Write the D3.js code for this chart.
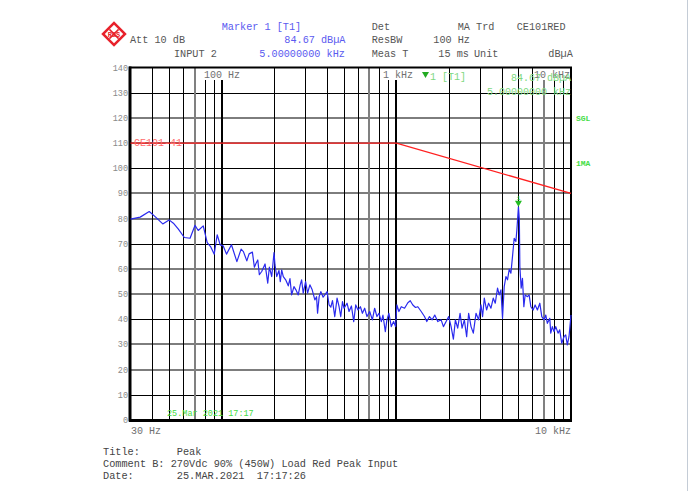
<!DOCTYPE html>
<html><head><meta charset="utf-8">
<script src="https://cdn.jsdelivr.net/npm/d3@7"></script>
<style>
body{margin:0;background:#fff}
svg{display:block}
text{font-family:"Liberation Mono","DejaVu Sans Mono",monospace}
</style>
</head><body>
<svg id="c" width="696" height="491"></svg>
<script>
// ---------- data ----------
const freqs = [30,34.1,38.4,41.5,45.9,49.9,52.8,56.4,61.0,65.8,70.2,73.3,78.3,82.5,86.2,90.5,94.1,97.9,101.8,106.4,
113.6,122,129,133,139.1,143.3,149.7,153.7,157.1,160.7,164.1,169.3,176.9,183.3,187.2,193.2,199.1,201.7,206.3,212.6,
216.3,220.3,225,232.2,240.3,245.7,251.2,259,265.8,274,281.2,286.5,292.6,302,310,319.5,329.4,341.2,348.9,353.6,
361.1,369.2,380.5,389.1,401.1,411.7,421,430.5,443.7,457.3,469.6,480.2,491.1,501.5,521.6,535.5,552.7,569.6,584.9,602.8,
622.1,638.7,658.2,678.5,703.1,728.4,750.7,773.9,794.5,819.9,837.3,864.1,882.5,906,935.1,963.8,989.5,1006.5,1033.3,1066.4,
1113.8,1163,1200.3,1241.9,1286.7,1326.4,1387,1448.4,1493.1,1546.7,1602.9,1658.5,1725,1803.8,1859.5,1926.6,1993.4,2057.3,2120.3,2177.2,
2243.9,2315.8,2377.4,2450.2,2525.8,2592.9,2676,2758,2857.6,2956.7,3051.5,3116.8,3187.2,3284.8,3372.2,3480.3,3586.9,3683.1,3795.9,3881.6,
3969.3,4053.3,4144.9,4238.5,4329.2,4427,4527,4622.9,4727.3,4834.1,4897.8,5000,5060,5094,5183,5272,5370,5463,5630,5757,
5889,6069,6230,6421,6627,6803,7013,7171,7323,7557,7657,7819,7996,8176,8429,8619,8848,9120,9326,9526,9739,10000];
const levels = [79.8,80.6,82.8,80.8,77.9,79.5,78.2,75.8,72.5,72.2,77.3,75.3,77.1,70.5,68.9,65.9,73.6,69.6,69.2,65.9,
69.6,62.9,67.9,66.9,63.2,66.0,66.7,60.7,62.3,63.6,57.7,59.0,62.0,54.4,60.7,57.0,66.5,61.6,57.0,59.4,
55.0,59.6,57.0,55.7,53.3,56.2,49.7,53.0,51.7,49.7,53.7,55.7,50.4,55.0,50.4,53.7,51.7,47.7,49.0,42.4,
49.0,51.0,48.8,49.7,51.0,45.7,44.8,47.4,41.1,48.4,45.0,41.1,47.0,44.4,46.4,43.1,45.3,39.1,45.7,43.7,
45.0,42.4,44.4,41.1,43.1,39.8,44.4,41.1,42.4,39.1,41.7,35.1,39.8,42.4,37.1,39.1,37.1,45.7,43.1,45.0,
44.4,46.6,47.4,45.7,44.7,45.0,43.1,41.1,39.1,41.1,39.8,41.7,39.1,39.8,37.1,39.1,41.1,37.1,32.1,39.8,
36.5,42.4,36.5,39.8,33.1,42.4,37.1,34.5,42.4,39.8,45.7,41.1,48.4,43.7,46.4,44.4,48.4,46.4,52.4,49.7,
51.7,40.4,53.0,57.0,55.7,59.9,58.3,64.9,72.2,70.9,75.5,84.67,79.5,61.0,52.4,56.3,45.0,49.7,49.0,49.7,
45.0,43.7,45.7,43.7,46.4,41.1,39.8,41.7,38.4,40.4,34.5,37.1,35.1,37.1,34.5,35.8,30.5,33.1,33.8,29.8,33.1,41.7];

const limitFreqs = [30, 1000, 10000];
const limitLevels = [110, 110, 90];
const gridFreqs = [40,50,60,70,80,90,100,200,300,400,500,600,700,800,900,1000,2000,3000,4000,5000,6000,7000,8000,9000];
const levelTicks = [0,10,20,30,40,50,60,70,80,90,100,110,120,130,140];
const freqLabels = [{f:100,t:"100 Hz"},{f:1000,t:"1 kHz"},{f:10000,t:"10 kHz"}];
const markerFreq = 5000, markerLevel = 84.67;

// ---------- scales ----------
const svg = d3.select("#c");
const x = d3.scaleLog().domain([30, 10000]).range([130.5, 571]);
const y = d3.scaleLinear().domain([0, 140]).range([420, 67.6]);
const px = v => Math.round(v) + 0.5;

// outer faint frame on right
svg.append("line").attr("x1",687.5).attr("x2",687.5).attr("y1",0).attr("y2",491)
  .attr("stroke","#c4ccd6").attr("stroke-width",1);

// ---------- grid ----------
const g = svg.append("g");
levelTicks.forEach(v => {
  if (v === 0 || v === 140) return;
  const black = ((v - 10) % 30 === 0);
  const yy = black ? px(y(v)) : Math.round(y(v));
  g.append("line").attr("x1",130).attr("x2",571).attr("y1", yy).attr("y2", yy)
    .attr("stroke", black ? "#000" : "#7d7d7d")
    .attr("stroke-width", black ? 1 : 2);
});
gridFreqs.forEach(f => {
  const lead = f / Math.pow(10, Math.floor(Math.log10(f) + 1e-9));
  const major = Math.abs(lead - 1) < 1e-6;
  const grey = Math.abs(lead - 7) < 1e-6;
  const xv = (major || grey) ? Math.round(x(f)) : px(x(f));
  g.append("line").attr("x1", xv).attr("x2", xv).attr("y1",67).attr("y2",420)
    .attr("stroke", grey ? "#808080" : "#000")
    .attr("stroke-width", (major || grey) ? 2 : 1);
});

// label backgrounds on top of grid (gaps)
const lblBoxes = [[200,240],[382,415],[533,571]];
freqLabels.forEach((d,i) => {
  const b = lblBoxes[i];
  svg.append("rect").attr("x", b[0]).attr("y", 68).attr("width", b[1]-b[0]).attr("height", 12).attr("fill","#fff");
});

// frame
svg.append("rect").attr("x",130).attr("y",67.5).attr("width",441).attr("height",352.5)
  .attr("fill","none").attr("stroke","#000").attr("stroke-width",2);
svg.append("line").attr("x1",130).attr("x2",130).attr("y1",66.5).attr("y2",421.5).attr("stroke","#000").attr("stroke-width",3);
svg.append("line").attr("x1",129).attr("x2",572).attr("y1",420.5).attr("y2",420.5).attr("stroke","#000").attr("stroke-width",3);

// ---------- y axis labels ----------
svg.append("g").selectAll("text").data(levelTicks).join("text")
  .attr("x",128).attr("y", d => y(d) + 3)
  .attr("text-anchor","end").attr("font-size","8.5px").attr("fill","#8a8a8a").text(d => d);

// frequency labels
freqLabels.forEach((d,i) => {
  svg.append("text").attr("x", lblBoxes[i][0] + (i===0?4:1)).attr("y", 77.5)
    .attr("font-size","10px").attr("fill","#707070").text(d.t);
});

// ---------- limit line ----------
const lim = d3.line().x((d,i) => x(limitFreqs[i])).y(d => y(d));
svg.append("path").attr("d", lim(limitLevels)).attr("fill","none")
  .attr("stroke","#ff2020").attr("stroke-width",1.3);
svg.append("text").attr("x",134).attr("y", y(110) + 3).attr("font-size","10px")
  .attr("fill","#ff6a6a").text("CE101-41");

// ---------- trace ----------
const tr = d3.line().x((d,i) => x(freqs[i])).y(d => y(d));
svg.append("path").attr("d", tr(levels)).attr("fill","none")
  .attr("stroke","#2a2aee").attr("stroke-width",1.2).attr("stroke-linejoin","round");

// marker
const mx = x(markerFreq), my = y(markerLevel);
svg.append("path").attr("d", `M${mx-3.5},${my-6} L${mx+3.5},${my-6} L${mx},${my} Z`).attr("fill","#22bb22");
svg.append("text").attr("x", mx).attr("y", my-7).attr("text-anchor","middle")
  .attr("font-size","6px").attr("fill","#22bb22").text("1");

// ---------- green annotations ----------
const green = "#7ed87e";
svg.append("path").attr("d","M422,72 L429,72 L425.5,78 Z").attr("fill","#22aa22");
svg.append("text").attr("x",430).attr("y",80).attr("font-size","10px").attr("fill",green).text("1 [T1]");
svg.append("text").attr("x",571).attr("y",81).attr("text-anchor","end").attr("font-size","10px").attr("fill",green).text(markerLevel.toFixed(2) + " dBµA");
svg.append("text").attr("x",571).attr("y",95).attr("text-anchor","end").attr("font-size","10px").attr("fill",green).text("5.00000000 kHz");
svg.append("text").attr("x",576).attr("y",121).attr("font-size","8px").attr("font-weight","bold").attr("fill","#44dd44").text("SGL");
svg.append("text").attr("x",576).attr("y",166).attr("font-size","8px").attr("font-weight","bold").attr("fill","#44dd44").text("1MA");
svg.append("text").attr("x",167).attr("y",416).attr("font-size","8.5px").attr("fill","#44dd44").text("25.Mar 2021  17:17");

// bottom axis labels
svg.append("text").attr("x",131).attr("y",434).attr("font-size","10px").attr("fill","#707070").text("30 Hz");
svg.append("text").attr("x",571).attr("y",434).attr("text-anchor","end").attr("font-size","10px").attr("fill","#707070").text("10 kHz");

// ---------- header ----------
const hdr = [
  [221.7,29.5,"Marker 1 [T1]","#5a5af0"],
  [371.7,29.5,"Det","#555"],
  [457.7,29.5,"MA Trd","#555"],
  [516.7,29.5,"CE101RED","#555"],
  [130,43,"Att 10 dB","#555"],
  [284.3,43,"84.67 dBµA","#5a5af0"],
  [371.7,43,"ResBW","#555"],
  [433.3,43,"100 Hz","#555"],
  [174,57,"INPUT 2","#555"],
  [259.3,57,"5.00000000 kHz","#5a5af0"],
  [371.7,57,"Meas T","#555"],
  [438.3,57,"15 ms","#555"],
  [474,57,"Unit","#555"],
  [548.3,57,"dBµA","#555"]
];
svg.append("g").selectAll("text").data(hdr).join("text")
  .attr("x", d => d[0]).attr("y", d => d[1]).attr("font-size","10.2px")
  .attr("fill", d => d[3]).attr("xml:space","preserve").text(d => d[2]);

// logo
const logo = svg.append("g").attr("transform","translate(114,34) rotate(45)");
logo.append("rect").attr("x",-9).attr("y",-9).attr("width",18).attr("height",18).attr("fill","#e8202a");
logo.append("rect").attr("x",-6.5).attr("y",-6.5).attr("width",13).attr("height",13).attr("fill","#fff");
logo.append("line").attr("x1",-6.5).attr("x2",6.5).attr("y1",0).attr("y2",0).attr("stroke","#e8202a").attr("stroke-width",1.5);
logo.append("line").attr("y1",-6.5).attr("y2",6.5).attr("x1",0).attr("x2",0).attr("stroke","#e8202a").attr("stroke-width",1.5);
svg.append("text").attr("x",114).attr("y",37).attr("text-anchor","middle").attr("font-size","7px")
  .attr("font-weight","bold").attr("fill","#e8202a").text("R&S");

// ---------- footer ----------
const foot = [
  [103,455,"Title:      Peak"],
  [103,467,"Comment B: 270Vdc 90% (450W) Load Red Peak Input"],
  [103,479,"Date:       25.MAR.2021  17:17:26"]
];
svg.append("g").selectAll("text").data(foot).join("text")
  .attr("x", d => d[0]).attr("y", d => d[1]).attr("font-size","10.25px").attr("fill","#444")
  .attr("xml:space","preserve").style("white-space","pre").text(d => d[2]);
</script>
</body></html>
